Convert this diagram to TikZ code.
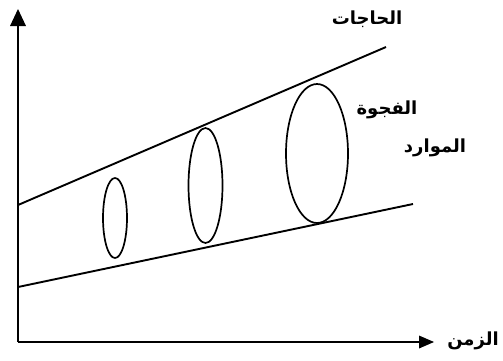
\documentclass[tikz,border=0pt]{standalone}
\usepackage{fontspec}
\newfontfamily\arabicfont[Script=Arabic]{DejaVu Sans}
\TeXXeTstate=1
\begin{document}
\begin{tikzpicture}[x=1pt,y=-1pt,
  axisline/.style={line width=2pt},
  tip/.style={fill=black,draw=none},
  trend/.style={line width=1.9pt},
  gap/.style={line width=1.7pt},
  lbl/.style={font=\arabicfont\bfseries\fontsize{18}{20}\selectfont,inner sep=0pt}]
\useasboundingbox (0,0) rectangle (503,360);
\coordinate (o) at (18,342);
\coordinate (ybase) at (18,24);
\coordinate (xbase) at (420,342);
\draw[axisline] (o) -- (ybase);
\draw[axisline] (o) -- (xbase);
\fill[tip] (18,9) -- (10,26) -- (26,26) -- cycle;
\fill[tip] (434,342) -- (419,335.5) -- (419,348.5) -- cycle;
\coordinate (u1) at (18,205);
\coordinate (u2) at (386,47);
\coordinate (l1) at (18,287);
\coordinate (l2) at (413,204);
\draw[trend] (u1) -- (u2);
\draw[trend] (l1) -- (l2);
\draw[gap] (115,218) ellipse [x radius=12, y radius=40];
\draw[gap] (205.5,185.5) ellipse [x radius=17, y radius=57.5];
\draw[gap] (317,153.5) ellipse [x radius=31, y radius=69.5];
\node[lbl] (needs) at (367,19) {\beginR الحاجات\endR};
\node[lbl] (gapl) at (387,110) {\beginR الفجوة\endR};
\node[lbl] (res) at (435,148) {\beginR الموارد\endR};
\node[lbl] (time) at (473,341) {\beginR الزمن\endR};
\end{tikzpicture}
\end{document}
